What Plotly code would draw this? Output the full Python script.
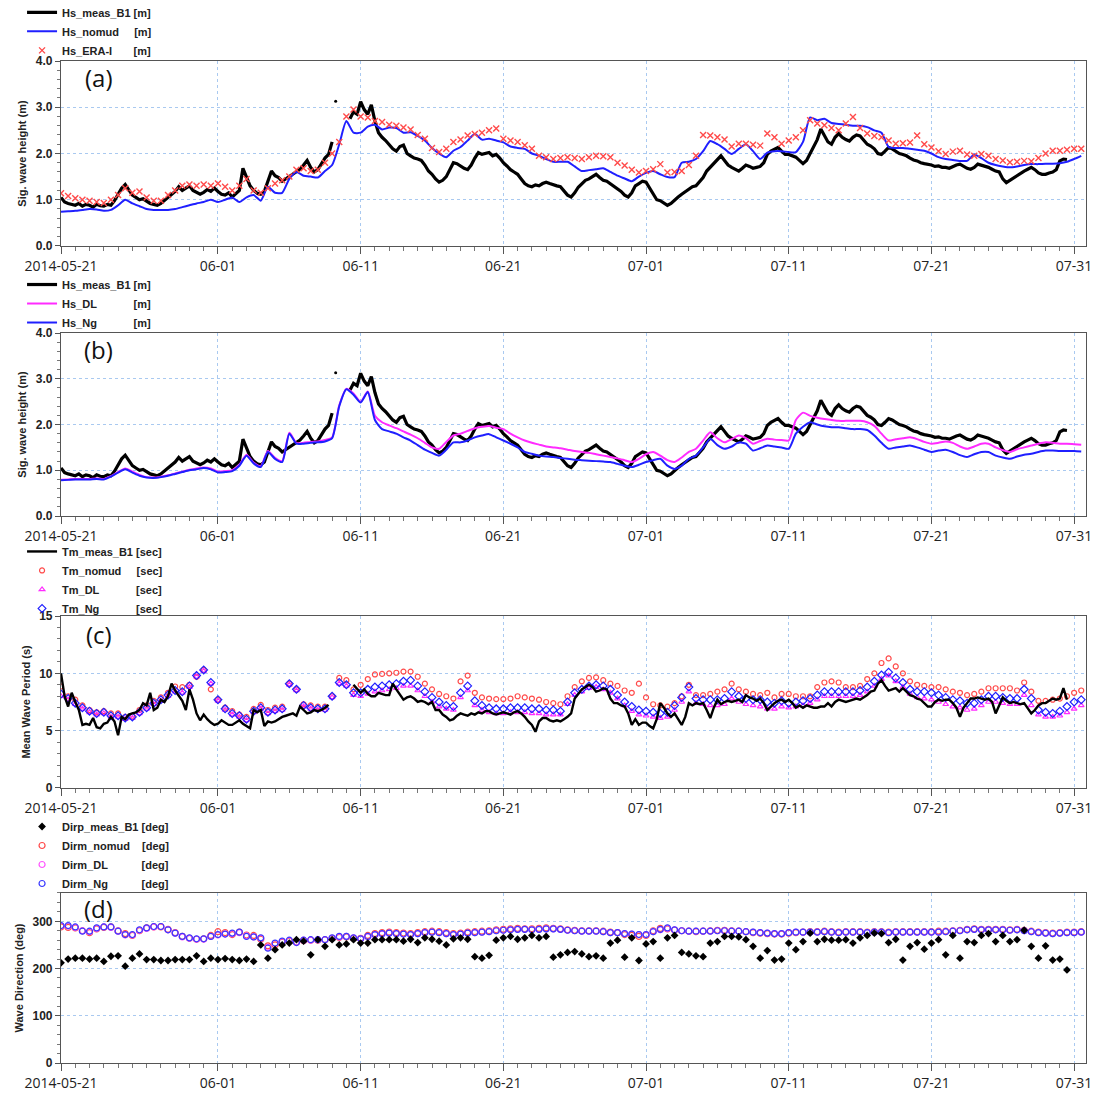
import pandas as pd
import plotly.graph_objects as go

START = "2014-05-21"
X_END = "2014-07-31 20:00"
x_tick_vals = ["2014-05-21", "2014-06-01", "2014-06-11", "2014-06-21",
               "2014-07-01", "2014-07-11", "2014-07-21", "2014-07-31"]
x_tick_text = ["2014-05-21", "06-01", "06-11", "06-21", "07-01", "07-11", "07-21", "07-31"]

# ---- (a)/(b) significant wave height, measured (6-hourly) ----
hs_meas = [
    1.05, 0.95, 0.92, 0.90, 0.88, 0.92, 0.86, 0.90, 0.88, 0.84, 0.90, 0.87,
    0.86, 0.90, 0.88, 0.98, 1.10, 1.25, 1.33, 1.22, 1.10, 1.05, 1.00, 1.02,
    0.96, 0.92, 0.90, 0.88, 0.92, 0.98, 1.05, 1.10, 1.18, 1.28, 1.20, 1.25,
    1.30, 1.20, 1.15, 1.12, 1.16, 1.22, 1.18, 1.25, 1.18, 1.12, 1.10, 1.15,
    1.06, 1.12, 1.20, 1.68, 1.50, 1.30, 1.20, 1.14, 1.12, 1.18, 1.40, 1.62,
    1.52, 1.48, 1.40, 1.45, 1.50, 1.56, 1.62, 1.66, 1.75, 1.85, 1.70, 1.60,
    1.65, 1.78, 1.90, 1.98, 2.25, None, None, None, None, 2.75, 2.90, 2.85,
    3.12, 2.95, 2.85, 3.05, 2.70, 2.45, 2.35, 2.28, 2.20, 2.10, 2.05, 2.15,
    2.18, 2.00, 1.95, 1.90, 1.88, 1.85, 1.75, 1.62, 1.55, 1.45, 1.38, 1.42,
    1.50, 1.65, 1.80, 1.78, 1.72, 1.68, 1.65, 1.75, 1.90, 2.02, 1.98, 2.00,
    2.02, 1.95, 1.98, 1.90, 1.80, 1.73, 1.65, 1.60, 1.55, 1.45, 1.35, 1.30,
    1.28, 1.32, 1.30, 1.35, 1.38, 1.35, 1.32, 1.30, 1.28, 1.20, 1.10, 1.06,
    1.15, 1.27, 1.35, 1.42, 1.45, 1.50, 1.55, 1.48, 1.42, 1.40, 1.35, 1.30,
    1.25, 1.18, 1.10, 1.06, 1.15, 1.30, 1.35, 1.40, 1.38, 1.25, 1.10, 1.00,
    0.98, 0.92, 0.88, 0.92, 1.00, 1.06, 1.12, 1.18, 1.22, 1.28, 1.30, 1.38,
    1.48, 1.62, 1.70, 1.80, 1.88, 1.95, 1.85, 1.75, 1.70, 1.65, 1.62, 1.68,
    1.75, 1.72, 1.68, 1.70, 1.72, 1.80, 1.98, 2.05, 2.10, 2.13, 2.05, 1.98,
    1.98, 1.95, 1.92, 1.85, 1.78, 1.85, 2.00, 2.13, 2.30, 2.53, 2.40, 2.25,
    2.20, 2.35, 2.43, 2.35, 2.30, 2.27, 2.35, 2.40, 2.38, 2.30, 2.20, 2.16,
    2.10, 2.00, 1.98, 2.05, 2.13, 2.10, 2.05, 2.00, 1.98, 1.95, 1.90, 1.86,
    1.84, 1.80, 1.78, 1.77, 1.75, 1.72, 1.73, 1.70, 1.70, 1.68, 1.72, 1.75,
    1.77, 1.72, 1.68, 1.66, 1.70, 1.77, 1.75, 1.72, 1.70, 1.66, 1.62, 1.60,
    1.45, 1.37, 1.42, 1.49, 1.52, 1.58, 1.62, 1.66, 1.70, 1.65, 1.58, 1.55,
    1.55, 1.58, 1.60, 1.65, 1.84, 1.88, 1.87,
]
hs_meas_spike_time = ["2014-06-09 06:00"]
hs_meas_spike = [3.13]

# ---- model / reanalysis Hs (12-hourly) ----
hs_nomud = [
    0.74, 0.75, 0.76, 0.78, 0.80, 0.79, 0.76, 0.78, 0.88, 1.00,
    0.92, 0.86, 0.80, 0.78, 0.78, 0.78, 0.80, 0.84, 0.88, 0.92,
    0.95, 1.00, 0.95, 1.00, 1.05, 0.95, 1.05, 1.10, 0.98, 1.28,
    1.15, 1.15, 1.45, 1.60, 1.52, 1.50, 1.48, 1.62, 1.75, 2.20,
    2.70, 2.45, 2.45, 2.58, 2.62, 2.52, 2.56, 2.55, 2.45, 2.46,
    2.38, 2.28, 2.12, 2.00, 1.92, 2.06, 2.14, 2.28, 2.42, 2.30,
    2.32, 2.28, 2.24, 2.15, 2.12, 2.10, 2.00, 1.95, 1.88, 1.82,
    1.82, 1.82, 1.72, 1.62, 1.64, 1.66, 1.68, 1.60, 1.52, 1.46,
    1.40, 1.50, 1.58, 1.62, 1.55, 1.49, 1.49, 1.80, 1.82, 1.88,
    2.05, 2.27, 2.20, 2.10, 1.99, 2.10, 2.20, 2.05, 1.88, 2.02,
    2.05, 2.05, 2.03, 2.03, 2.25, 2.78, 2.72, 2.75, 2.66, 2.64,
    2.62, 2.60, 2.60, 2.57, 2.50, 2.45, 2.14, 2.12, 2.12, 2.10,
    2.08, 2.06, 2.00, 1.92, 1.88, 1.86, 1.84, 1.84, 1.98, 1.90,
    1.80, 1.75, 1.72, 1.70, 1.72, 1.75, 1.77, 1.77, 1.78, 1.78,
    1.79, 1.82, 1.88, 1.95,
]
hs_era = [
    1.14, 1.08, 1.03, 1.00, 0.98, 0.95, 0.93, 1.00, 1.10, 1.25,
    1.15, 1.18, 1.05, 0.98, 0.98, 1.10, 1.20, 1.30, 1.33, 1.30,
    1.33, 1.30, 1.35, 1.28, 1.20, 1.30, 1.45, 1.20, 1.15, 1.25,
    1.35, 1.42, 1.50, 1.65, 1.68, 1.62, 1.65, 1.80, 2.00, 2.25,
    2.80, 2.95, 2.80, 2.78, 2.70, 2.68, 2.62, 2.60, 2.56, 2.52,
    2.40, 2.32, 2.12, 2.03, 2.10, 2.25, 2.30, 2.39, 2.42, 2.45,
    2.50, 2.54, 2.32, 2.28, 2.25, 2.18, 2.10, 1.95, 1.92, 1.88,
    1.90, 1.92, 1.90, 1.88, 1.92, 1.95, 1.94, 1.92, 1.80, 1.74,
    1.65, 1.59, 1.62, 1.66, 1.77, 1.59, 1.60, 1.62, 1.75, 1.95,
    2.40, 2.39, 2.35, 2.30, 2.15, 2.21, 2.21, 2.19, 2.17, 2.43,
    2.35, 2.21, 2.28, 2.35, 2.50, 2.72, 2.65, 2.61, 2.55, 2.50,
    2.65, 2.79, 2.55, 2.43, 2.38, 2.35, 2.28, 2.21, 2.22, 2.24,
    2.39, 2.20, 2.13, 2.05, 1.99, 2.04, 2.06, 1.98, 1.95, 1.99,
    1.95, 1.88, 1.85, 1.81, 1.82, 1.84, 1.83, 1.90, 2.00, 2.06,
    2.06, 2.08, 2.10, 2.10,
]
hs_dl = [
    0.79, 0.80, 0.81, 0.81, 0.81, 0.82, 0.81, 0.87, 0.96, 1.04,
    0.97, 0.90, 0.85, 0.84, 0.86, 0.89, 0.93, 0.97, 1.01, 1.04,
    1.06, 1.04, 0.97, 0.98, 1.00, 1.12, 1.34, 1.17, 1.09, 1.42,
    1.27, 1.20, 1.82, 1.60, 1.60, 1.62, 1.63, 1.66, 1.72, 2.42,
    2.78, 2.68, 2.50, 2.72, 2.19, 2.05, 1.98, 1.92, 1.85, 1.78,
    1.70, 1.60, 1.50, 1.47, 1.62, 1.76, 1.80, 1.86, 1.92, 1.95,
    1.97, 1.93, 1.90, 1.80, 1.72, 1.65, 1.60, 1.56, 1.52, 1.50,
    1.48, 1.45, 1.42, 1.40, 1.38, 1.35, 1.32, 1.29, 1.26, 1.22,
    1.18, 1.25, 1.35, 1.40, 1.32, 1.22, 1.18, 1.28, 1.40, 1.47,
    1.65, 1.83, 1.70, 1.61, 1.68, 1.76, 1.70, 1.58, 1.64, 1.69,
    1.67, 1.66, 1.65, 2.10, 2.26, 2.19, 2.15, 2.12, 2.10, 2.08,
    2.08, 2.08, 2.08, 2.05, 1.97, 1.80, 1.65, 1.68, 1.70, 1.72,
    1.68, 1.62, 1.58, 1.60, 1.63, 1.60, 1.52, 1.47, 1.52, 1.58,
    1.58, 1.50, 1.44, 1.40, 1.46, 1.50, 1.54, 1.58, 1.61, 1.60,
    1.58, 1.58, 1.57, 1.56,
]
hs_ng = [
    0.78, 0.79, 0.80, 0.80, 0.80, 0.81, 0.80, 0.86, 0.95, 1.02,
    0.95, 0.88, 0.84, 0.83, 0.85, 0.88, 0.92, 0.96, 1.00, 1.02,
    1.05, 1.02, 0.95, 0.96, 0.98, 1.10, 1.32, 1.15, 1.07, 1.40,
    1.25, 1.18, 1.80, 1.58, 1.58, 1.60, 1.61, 1.63, 1.70, 2.40,
    2.77, 2.65, 2.48, 2.71, 2.10, 1.90, 1.85, 1.80, 1.72, 1.65,
    1.55, 1.45, 1.38, 1.32, 1.45, 1.61, 1.61, 1.65, 1.72, 1.76,
    1.79, 1.72, 1.65, 1.58, 1.50, 1.40, 1.36, 1.32, 1.30, 1.29,
    1.27, 1.25, 1.23, 1.22, 1.21, 1.20, 1.19, 1.18, 1.14, 1.10,
    1.07, 1.12, 1.18, 1.22, 1.25, 1.10, 1.03, 1.10, 1.25, 1.32,
    1.50, 1.69, 1.55, 1.47, 1.52, 1.61, 1.58, 1.43, 1.48, 1.54,
    1.52, 1.50, 1.47, 1.80, 1.95, 2.05, 2.00, 1.96, 1.94, 1.94,
    1.92, 1.90, 1.90, 1.88, 1.76, 1.60, 1.47, 1.50, 1.52, 1.54,
    1.50, 1.45, 1.40, 1.43, 1.45, 1.40, 1.33, 1.29, 1.35, 1.40,
    1.40, 1.32, 1.28, 1.25, 1.30, 1.34, 1.36, 1.40, 1.43, 1.43,
    1.42, 1.42, 1.42, 1.41,
]

# ---- (c) mean wave period ----
tm_meas = [
    10.0, 8.0, 7.1, 8.3, 7.5, 6.8, 5.5, 5.6, 5.5, 6.1, 5.3, 5.2,
    5.6, 5.7, 6.2, 5.8, 4.6, 6.2, 6.0, 6.4, 6.5, 6.6, 6.8, 7.4,
    7.2, 8.3, 6.8, 7.0, 7.7, 7.5, 8.0, 9.1, 8.5, 8.1, 7.6, 6.8,
    8.6, 7.7, 6.5, 5.9, 6.4, 6.0, 5.7, 5.5, 5.6, 5.9, 5.7, 5.5,
    5.5, 5.7, 5.9, 5.6, 5.4, 5.2, 6.8, 6.6, 6.8, 5.4, 5.8, 5.7,
    5.8, 6.0, 6.2, 6.3, 6.4, 6.5, 6.3, 7.1, 6.8, 6.5, 6.6, 6.8,
    6.7, 6.8, 7.0, 7.25, None, None, None, None, None, None, 9.0, 8.6,
    8.3, 8.6, 8.2, 8.0, 8.0, 8.3, 8.2, 8.1, 8.1, 9.1, 8.6, 8.2,
    7.7, 7.9, 8.0, 7.8, 7.5, 7.6, 7.5, 7.3, 7.5, 6.8, 6.8, 6.4,
    6.2, 5.9, 6.0, 6.3, 6.5, 6.4, 6.3, 6.5, 6.4, 6.6, 6.5, 6.7,
    6.7, 6.5, 6.4, 6.5, 6.6, 6.5, 6.4, 6.6, 6.7, 6.5, 6.2, 5.8,
    5.5, 4.9, 5.8, 6.1, 6.1, 5.9, 5.8, 5.9, 5.8, 6.0, 6.2, 6.5,
    7.8, 8.2, 8.6, 8.8, 9.0, 8.8, 8.4, 8.5, 8.7, 8.6, 7.8, 7.4,
    7.4, 7.2, 7.1, 6.5, 5.5, 6.0, 5.5, 5.7, 5.7, 5.4, 5.2, 6.0,
    7.4, 7.0, 6.5, 6.2, 6.5, 6.0, 5.5, 6.2, 7.4, 7.2, 7.4, 7.3,
    7.4, 6.8, 6.1, 7.0, 7.7, 7.3, 7.5, 7.6, 7.5, 7.6, 7.7, 7.5,
    8.1, 7.9, 7.8, 7.6, 7.8, 7.4, 6.8, 7.1, 7.4, 7.6, 7.7, 7.5,
    7.7, 7.4, 7.0, 7.2, 7.0, 7.2, 7.1, 7.0, 7.0, 7.1, 7.1, 7.4,
    7.1, 7.5, 7.7, 7.6, 7.5, 7.6, 7.7, 7.8, 7.7, 7.9, 8.1, 8.4,
    8.5, 9.1, 9.4, 8.9, 8.5, 8.6, 8.7, 8.4, 8.7, 8.4, 8.1, 8.0,
    7.8, 7.7, 7.4, 7.1, 7.1, 7.5, 7.7, 7.6, 7.7, 7.7, 7.4, 7.0,
    6.2, 7.0, 7.4, 7.8, 7.8, 7.9, 7.8, 7.7, 7.8, 7.5, 6.5, 7.2,
    7.9, 7.6, 7.4, 7.5, 7.4, 7.3, 7.4, 7.0, 6.5, 6.8, 7.2, 7.4,
    7.4, 7.6, 7.8, 7.7, 7.8, 8.7, 7.7,
]
tm_nomud = [
    8.85, 8.0, 7.7, 7.2, 6.8, 6.6, 6.7, 6.5, 6.5, 6.2,
    6.3, 6.8, 7.2, 7.6, 7.9, 8.3, 8.85, 8.8, 9.0, 9.7,
    10.3, 8.6, 7.7, 7.0, 6.7, 6.4, 6.2, 6.9, 7.25, 6.8,
    7.0, 7.1, 9.1, 8.6, 7.3, 7.2, 7.1, 7.1, 8.0, 9.6,
    9.4, 8.6, 9.0, 9.5, 9.9, 9.95, 10.0, 10.05, 10.15, 10.15,
    9.7, 9.1, 8.6, 8.2, 8.0, 7.8, 9.3, 9.8, 8.3, 7.9,
    7.8, 7.75, 7.75, 7.8, 8.0, 7.9, 7.8, 7.7, 7.5, 7.4,
    7.3, 8.0, 8.8, 9.3, 9.6, 9.65, 9.4, 9.1, 8.9, 8.5,
    8.3, 9.1, 7.9, 7.3, 7.2, 7.1, 7.4, 8.0, 9.0, 8.1,
    8.1, 8.2, 8.4, 8.6, 9.1, 8.6, 8.4, 8.2, 8.1, 8.3,
    7.9, 8.2, 8.2, 8.0, 8.0, 8.0, 8.8, 9.2, 9.3, 9.2,
    8.8, 8.8, 8.9, 9.5, 10.0, 10.9, 11.3, 10.6, 10.0, 9.3,
    9.0, 8.9, 8.8, 8.8, 8.6, 8.4, 8.3, 8.1, 8.2, 8.4,
    8.7, 8.7, 8.7, 8.7, 8.5, 9.2, 8.4, 7.6, 7.6, 7.7,
    7.8, 8.0, 8.3, 8.5,
]
tm_dl = [
    8.0, 7.7, 7.3, 6.9, 6.6, 6.4, 6.5, 6.2, 6.2, 6.0,
    6.1, 6.5, 6.9, 7.3, 7.6, 8.0, 8.4, 8.3, 8.8, 9.7,
    10.2, 9.1, 7.6, 6.8, 6.4, 6.2, 5.9, 6.6, 6.9, 6.5,
    6.7, 6.8, 9.0, 8.5, 7.1, 6.9, 6.8, 6.8, 7.9, 9.1,
    8.9, 8.1, 8.0, 8.2, 8.4, 8.5, 8.6, 8.7, 8.9, 8.9,
    8.5, 8.0, 7.5, 7.1, 6.9, 6.8, 7.9, 8.5, 7.2, 6.8,
    6.6, 6.5, 6.5, 6.6, 6.6, 6.6, 6.5, 6.5, 6.4, 6.4,
    6.4, 7.3, 8.1, 8.4, 8.7, 8.8, 8.6, 8.3, 7.8, 7.2,
    6.7, 6.4, 6.3, 6.2, 6.1, 6.2, 6.8, 7.5, 8.4, 7.4,
    7.3, 7.2, 7.2, 7.3, 7.8, 7.5, 7.3, 7.2, 7.1, 6.9,
    6.9, 7.1, 7.0, 7.1, 7.2, 7.4, 7.7, 8.0, 8.0, 8.0,
    8.0, 8.0, 8.1, 8.4, 8.9, 9.5, 9.8, 9.3, 8.8, 8.2,
    7.9, 7.8, 7.7, 7.5, 7.3, 7.1, 7.0, 6.8, 6.9, 7.2,
    7.5, 7.5, 7.4, 7.3, 7.3, 8.1, 7.2, 6.4, 6.2, 6.2,
    6.3, 6.6, 6.9, 7.2,
]
tm_ng = [
    8.2, 7.8, 7.4, 7.0, 6.7, 6.5, 6.6, 6.3, 6.3, 6.1,
    6.2, 6.6, 7.0, 7.4, 7.7, 8.1, 8.5, 8.4, 8.9, 9.8,
    10.3, 9.2, 7.7, 6.9, 6.5, 6.3, 6.0, 6.7, 7.0, 6.6,
    6.8, 6.9, 9.1, 8.6, 7.2, 7.0, 6.9, 6.9, 8.0, 9.2,
    9.0, 8.3, 8.3, 8.6, 8.8, 8.9, 9.0, 9.1, 9.3, 9.4,
    8.9, 8.4, 7.9, 7.5, 7.2, 7.1, 8.3, 8.9, 7.6, 7.2,
    7.0, 6.9, 6.9, 7.0, 7.0, 7.0, 6.9, 6.9, 6.8, 6.8,
    6.7, 7.5, 8.3, 8.6, 8.9, 9.0, 8.9, 8.6, 8.1, 7.5,
    7.1, 6.8, 6.7, 6.6, 6.5, 6.6, 7.2, 7.9, 8.8, 7.8,
    7.7, 7.7, 7.7, 7.8, 8.4, 8.0, 7.8, 7.7, 7.7, 7.5,
    7.4, 7.6, 7.4, 7.5, 7.6, 7.8, 8.1, 8.4, 8.4, 8.4,
    8.4, 8.4, 8.5, 8.8, 9.3, 9.85, 10.1, 9.6, 9.2, 8.6,
    8.4, 8.4, 8.3, 8.1, 7.9, 7.7, 7.6, 7.4, 7.4, 7.7,
    8.0, 8.0, 7.9, 7.8, 7.8, 8.6, 7.8, 6.8, 6.6, 6.5,
    6.7, 7.1, 7.5, 7.7,
]

# ---- (d) wave direction ----
dir_meas = [
    212, 220, 222, 222, 220, 222, 215, 226, 227, 205,
    222, 231, 219, 219, 217, 217, 219, 219, 219, 227,
    215, 222, 219, 221, 219, 217, 220, 215, 250, 222,
    240, 250, 254, 261, 258, 229, 261, 247, 261, 250,
    252, 261, 254, 254, 261, 261, 261, 261, 258, 262,
    255, 265, 262, 258, 250, 263, 265, 262, 225, 222,
    228, 260, 265, 268, 262, 265, 270, 265, 268, 224,
    229, 234, 236, 231, 225, 227, 222, 254, 260, 224,
    265, 217, 252, 257, 222, 265, 270, 234, 231, 227,
    225, 254, 257, 268, 268, 267, 261, 247, 222, 238,
    218, 220, 254, 240, 257, 275, 257, 262, 260, 260,
    261, 254, 265, 270, 275, 274, 255, 262, 218, 247,
    255, 241, 254, 261, 229, 270, 222, 257, 255, 270,
    274, 257, 270, 257, 261, 281, 247, 222, 248, 218,
    220, 197,
]
dir_nomud = [
    288, 287, 286, 280, 276, 284, 287, 288, 280, 274,
    270, 280, 286, 288, 288, 283, 276, 268, 264, 262,
    263, 270, 278, 276, 272, 277, 271, 270, 262, 248,
    250, 256, 258, 256, 259, 260, 260, 261, 264, 266,
    267, 264, 264, 270, 274, 276, 277, 276, 275, 274,
    276, 278, 279, 278, 276, 274, 275, 277, 278, 279,
    280, 282, 283, 284, 285, 284, 284, 285, 286, 285,
    284, 282, 281, 280, 280, 280, 279, 277, 276, 272,
    270, 268, 270, 280, 285, 284, 281, 280, 279, 278,
    279, 280, 281, 281, 280, 279, 278, 276, 275, 274,
    273, 273, 275, 276, 277, 278, 278, 279, 278, 277,
    278, 278, 278, 277, 278, 278, 277, 278, 278, 278,
    278, 278, 278, 279, 279, 280, 281, 283, 284, 283,
    283, 283, 283, 282, 283, 281, 279, 277, 276, 275,
    276, 277, 277, 278,
]
dir_dl = [
    290, 290, 287, 280, 278, 285, 288, 287, 279, 271,
    271, 281, 285, 288, 289, 282, 275, 267, 264, 262,
    262, 268, 271, 273, 274, 276, 269, 267, 264, 245,
    253, 257, 259, 256, 260, 260, 261, 261, 264, 267,
    268, 265, 263, 267, 271, 273, 275, 274, 273, 272,
    274, 276, 277, 276, 274, 272, 273, 275, 276, 277,
    278, 280, 281, 282, 283, 283, 282, 283, 284, 284,
    283, 281, 280, 279, 279, 279, 278, 276, 276, 274,
    273, 272, 272, 278, 282, 285, 282, 280, 279, 279,
    279, 279, 280, 280, 279, 279, 278, 277, 276, 275,
    274, 274, 276, 277, 277, 277, 277, 278, 277, 276,
    277, 277, 277, 276, 277, 277, 276, 277, 277, 277,
    277, 277, 277, 277, 278, 279, 280, 282, 283, 282,
    282, 282, 282, 281, 282, 280, 278, 276, 275, 274,
    275, 276, 276, 277,
]
dir_ng = [
    291, 291, 288, 279, 279, 286, 288, 288, 279, 272,
    272, 282, 286, 289, 289, 282, 275, 268, 265, 263,
    263, 268, 272, 273, 275, 277, 268, 267, 265, 243,
    254, 258, 260, 255, 260, 261, 261, 261, 265, 268,
    268, 265, 263, 268, 272, 274, 275, 274, 273, 272,
    274, 276, 277, 276, 274, 272, 273, 275, 276, 277,
    278, 280, 281, 282, 283, 283, 282, 283, 284, 284,
    283, 281, 280, 279, 279, 279, 278, 276, 276, 274,
    273, 272, 272, 278, 283, 286, 282, 280, 279, 279,
    279, 279, 280, 280, 279, 279, 278, 277, 276, 275,
    274, 274, 276, 277, 277, 277, 277, 278, 277, 276,
    277, 277, 277, 276, 277, 277, 276, 277, 277, 277,
    277, 277, 277, 277, 278, 279, 280, 282, 283, 282,
    282, 282, 282, 281, 282, 280, 278, 276, 275, 274,
    275, 276, 276, 277,
]

t6 = pd.date_range(START, periods=len(hs_meas), freq="6h")
t6c = pd.date_range(START, periods=len(tm_meas), freq="6h")
t12 = pd.date_range(START, periods=len(hs_nomud), freq="12h")
t12d = pd.date_range(START, periods=len(dir_meas), freq="12h")

BLACK = "#000000"
BLUE = "#1f1fff"
MAGENTA = "#ff2bff"
RED = "#ff4a4a"
NB = "\u00a0"

fig = go.Figure()

# (a)
fig.add_trace(go.Scatter(x=t6, y=hs_meas, mode="lines", line=dict(color=BLACK, width=3.2),
                         name="Hs_meas_B1 [m]", xaxis="x", yaxis="y", legend="legend", legendrank=1))
fig.add_trace(go.Scatter(x=hs_meas_spike_time, y=hs_meas_spike, mode="markers",
                         marker=dict(color=BLACK, size=3), showlegend=False, xaxis="x", yaxis="y"))
fig.add_trace(go.Scatter(x=t12, y=hs_nomud, mode="lines", line=dict(color=BLUE, width=2, shape="spline", smoothing=0.6),
                         name="Hs_nomud" + NB * 5 + "[m]", xaxis="x", yaxis="y", legend="legend", legendrank=2))
fig.add_trace(go.Scatter(x=t12, y=hs_era, mode="markers",
                         marker=dict(symbol="x-thin-open", color=RED, size=6, line=dict(color=RED, width=1.4)),
                         name="Hs_ERA-I" + NB * 7 + "[m]", xaxis="x", yaxis="y", legend="legend", legendrank=3))

# (b)
fig.add_trace(go.Scatter(x=t6, y=hs_meas, mode="lines", line=dict(color=BLACK, width=3.2),
                         name="Hs_meas_B1 [m]", xaxis="x2", yaxis="y2", legend="legend2", legendrank=1))
fig.add_trace(go.Scatter(x=hs_meas_spike_time, y=hs_meas_spike, mode="markers",
                         marker=dict(color=BLACK, size=3), showlegend=False, xaxis="x2", yaxis="y2"))
fig.add_trace(go.Scatter(x=t12, y=hs_dl, mode="lines", line=dict(color=MAGENTA, width=2, shape="spline", smoothing=0.6),
                         name="Hs_DL" + NB * 12 + "[m]", xaxis="x2", yaxis="y2", legend="legend2", legendrank=2))
fig.add_trace(go.Scatter(x=t12, y=hs_ng, mode="lines", line=dict(color=BLUE, width=2, shape="spline", smoothing=0.6),
                         name="Hs_Ng" + NB * 12 + "[m]", xaxis="x2", yaxis="y2", legend="legend2", legendrank=3))

# (c)
fig.add_trace(go.Scatter(x=t12, y=tm_nomud, mode="markers",
                         marker=dict(symbol="circle-open", color=RED, size=5, line=dict(width=1.2)),
                         name="Tm_nomud" + NB * 5 + "[sec]", xaxis="x3", yaxis="y3", legend="legend3", legendrank=2))
fig.add_trace(go.Scatter(x=t12, y=tm_dl, mode="markers",
                         marker=dict(symbol="triangle-up-open", color=MAGENTA, size=5, line=dict(width=1.2)),
                         name="Tm_DL" + NB * 12 + "[sec]", xaxis="x3", yaxis="y3", legend="legend3", legendrank=3))
fig.add_trace(go.Scatter(x=t12, y=tm_ng, mode="markers",
                         marker=dict(symbol="diamond-open", color=BLUE, size=6, line=dict(width=1.2)),
                         name="Tm_Ng" + NB * 12 + "[sec]", xaxis="x3", yaxis="y3", legend="legend3", legendrank=4))
fig.add_trace(go.Scatter(x=t6c, y=tm_meas, mode="lines", line=dict(color=BLACK, width=2.4),
                         name="Tm_meas_B1 [sec]", xaxis="x3", yaxis="y3", legend="legend3", legendrank=1))

# (d)
fig.add_trace(go.Scatter(x=t12, y=dir_nomud, mode="markers",
                         marker=dict(symbol="circle-open", color=RED, size=6, line=dict(width=1.2)),
                         name="Dirm_nomud" + NB * 4 + "[deg]", xaxis="x4", yaxis="y4", legend="legend4", legendrank=2))
fig.add_trace(go.Scatter(x=t12, y=dir_dl, mode="markers",
                         marker=dict(symbol="circle-open", color="#ff55ff", size=6, line=dict(width=1.2)),
                         name="Dirm_DL" + NB * 11 + "[deg]", xaxis="x4", yaxis="y4", legend="legend4", legendrank=3))
fig.add_trace(go.Scatter(x=t12, y=dir_ng, mode="markers",
                         marker=dict(symbol="circle-open", color="#3a3aff", size=6, line=dict(width=1.2)),
                         name="Dirm_Ng" + NB * 11 + "[deg]", xaxis="x4", yaxis="y4", legend="legend4", legendrank=4))
fig.add_trace(go.Scatter(x=t12d, y=dir_meas, mode="markers",
                         marker=dict(symbol="diamond", color=BLACK, size=6),
                         name="Dirp_meas_B1 [deg]", xaxis="x4", yaxis="y4", legend="legend4", legendrank=1))

GRID = "#a9c9f0"
AXFONT = dict(family="Liberation Sans", size=12, color="#222", weight="bold")


def xaxis(anchor):
    return dict(
        anchor=anchor, domain=[0, 1], type="date", range=[START, X_END],
        tickmode="array", tickvals=x_tick_vals, ticktext=x_tick_text,
        ticks="outside", ticklen=7, tickcolor="#555", tickwidth=1,
        tickfont=dict(family="Open Sans", size=14, color="#222"),
        showgrid=True, gridcolor=GRID, griddash="dot", gridwidth=1,
        showline=True, mirror=True, linecolor="#555", linewidth=1.2,
        minor=dict(tickmode="linear", tick0=START, dtick=86400000, ticks="outside",
                   ticklen=4, tickcolor="#777", showgrid=False),
        zeroline=False, automargin=False,
    )


def yaxis(anchor, dom, rng, dtick, mdtick, fmt, title):
    return dict(
        anchor=anchor, domain=dom, range=rng, dtick=dtick, tick0=0, tickformat=fmt,
        ticks="outside", ticklen=5, tickcolor="#555",
        tickfont=AXFONT,
        showgrid=True, gridcolor=GRID, griddash="dot", gridwidth=1,
        showline=True, mirror=True, linecolor="#555", linewidth=1.2,
        minor=dict(dtick=mdtick, tick0=0, ticks="outside", ticklen=3, tickcolor="#777", showgrid=False),
        zeroline=False, automargin=False,
        title=dict(text=title, standoff=6,
                   font=dict(family="Liberation Sans", size=11, color="#222", weight="bold")),
    )


LEGFONT = dict(family="Liberation Sans", size=11, color="#222", weight="bold")


def legend(ytop):
    return dict(x=-0.038, xanchor="left", y=ytop, yanchor="top", font=LEGFONT,
                bgcolor="rgba(0,0,0,0)", itemwidth=30, tracegroupgap=0, traceorder="normal")


# the page body adds an 8 px offset, so the figure is 8 px smaller and margins shifted
fig.update_layout(
    width=1093, height=1085,
    margin=dict(l=53, r=15, t=53, b=30, autoexpand=False),
    paper_bgcolor="white", plot_bgcolor="white",
    font=dict(family="Liberation Sans", color="#222"),
    xaxis=xaxis("y"), xaxis2=xaxis("y2"), xaxis3=xaxis("y3"), xaxis4=xaxis("y4"),
    yaxis=yaxis("x", [0.8154, 1.0], [0, 4], 1, 0.2, ".1f", "Sig. wave height (m)"),
    yaxis2=yaxis("x2", [0.5459, 0.7285], [0, 4], 1, 0.2, ".1f", "Sig. wave height (m)"),
    yaxis3=yaxis("x3", [0.2745, 0.4461], [0, 15], 5, 1, "d", "Mean Wave Period (s)"),
    yaxis4=yaxis("x4", [0.0, 0.1697], [0, 360], 100, 20, "d", "Wave Direction (deg)"),
    legend=legend(1.063), legend2=legend(0.7914), legend3=legend(0.525), legend4=legend(0.2505),
    showlegend=True,
)

panel_labels = ["(a)", "(b)", "(c)", "(d)"]
panel_label_y = [0.91, 0.91, 0.89, 0.91]
for i, (lab, yy) in enumerate(zip(panel_labels, panel_label_y)):
    sfx = "" if i == 0 else str(i + 1)
    fig.add_annotation(text=lab, xref=f"x{sfx} domain", yref=f"y{sfx} domain",
                       x=0.037, y=yy, xanchor="center", yanchor="middle", showarrow=False,
                       font=dict(family="Open Sans", size=24, color="#111"))

fig.write_html("out.html")
